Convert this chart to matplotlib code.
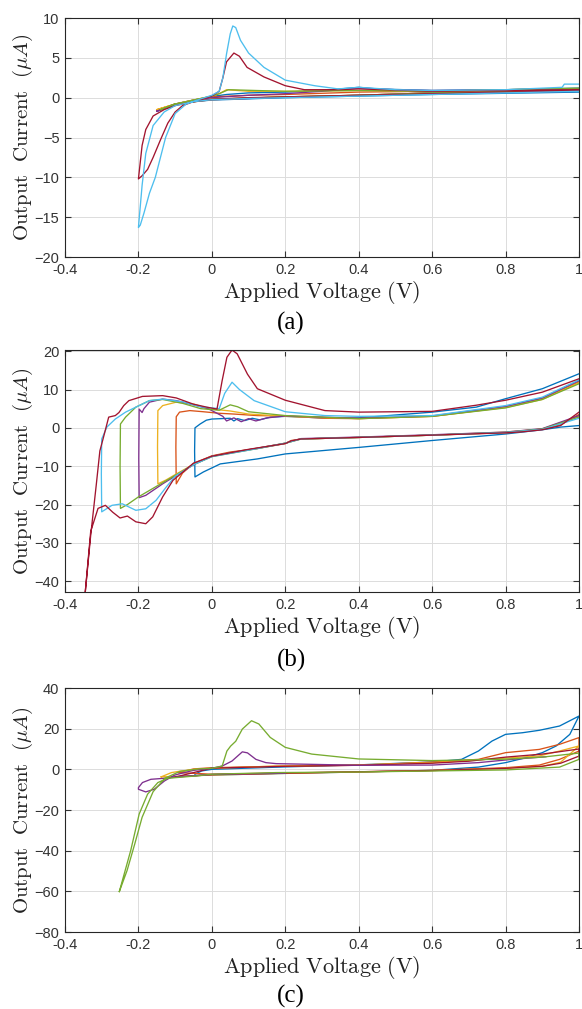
"""Cyclic voltammetry sweeps, three stacked panels (a)-(c)."""

import matplotlib as mpl
import matplotlib.pyplot as plt

mpl.rcParams.update({"mathtext.fontset": "cm", "font.family": "Liberation Sans"})

# MATLAB default line colours
blue, orange, yellow, purple = "#0072BD", "#D95319", "#EDB120", "#7E2F8E"
green, cyan, maroon = "#77AC30", "#4DBEEE", "#A2142F"

# ---- panel (a) ----
a_blue_v = [1.0, 0.8, 0.6, 0.4, 0.2, 0.0, -0.05, -0.1, -0.13, -0.15, -0.13, -0.1, -0.05, 0.0, 0.04, 0.1, 0.2, 0.3, 0.4, 0.45, 0.6, 0.8, 1.0]
a_blue_i = [0.7, 0.55, 0.4, 0.2, 0.0, -0.3, -0.5, -0.9, -1.4, -1.7, -1.3, -0.8, -0.3, 0.15, 0.4, 0.6, 0.7, 0.9, 1.3, 1.1, 0.9, 1.0, 1.2]
a_orange_v = [-0.15, -0.1, -0.05, 0.0, 0.1, 0.2, 0.4, 0.6, 0.8, 1.0, 1.0, 0.6, 0.4, 0.2, 0.0, -0.1, -0.15]
a_orange_i = [-1.6, -0.8, -0.3, 0.1, 0.3, 0.4, 0.7, 0.8, 1.0, 1.1, 0.9, 0.6, 0.3, 0.1, -0.2, -0.8, -1.6]
a_yellow_v = [-0.15, -0.1, -0.05, 0.0, 0.02, 0.04, 0.1, 0.2, 0.4, 0.6, 0.8, 1.0, 1.0, 0.6, 0.4, 0.2, 0.0, -0.1, -0.15]
a_yellow_i = [-1.5, -0.8, -0.3, 0.2, 0.5, 1.0, 0.8, 0.8, 0.9, 0.8, 1.0, 1.1, 0.9, 0.6, 0.3, 0.1, -0.25, -0.8, -1.5]
a_purple_v = [-0.15, -0.1, -0.05, 0.0, 0.1, 0.2, 0.3, 0.4, 0.5, 0.6, 0.8, 1.0, 1.0, 0.6, 0.4, 0.2, 0.0, -0.1, -0.15]
a_purple_i = [-1.7, -0.9, -0.4, 0.0, 0.3, 0.5, 0.8, 1.2, 1.0, 0.9, 1.0, 1.1, 0.8, 0.6, 0.3, 0.05, -0.25, -0.8, -1.7]
a_green_v = [-0.14, -0.1, -0.05, 0.0, 0.02, 0.045, 0.12, 0.2, 0.4, 0.6, 0.8, 1.0, 1.0, 0.6, 0.4, 0.2, 0.0, -0.1, -0.14]
a_green_i = [-1.5, -0.8, -0.3, 0.2, 0.5, 1.0, 0.9, 0.8, 0.9, 0.8, 1.0, 1.2, 0.9, 0.6, 0.3, 0.1, -0.2, -0.8, -1.5]
a_cyan_v = [1.0, 0.8, 0.6, 0.4, 0.2, 0.1, 0.0, -0.05, -0.1, -0.13, -0.16, -0.18, -0.19, -0.2, -0.195, -0.185, -0.17, -0.154, -0.126, -0.1, -0.07, -0.04, 0.0, 0.02, 0.03, 0.04, 0.05, 0.057, 0.065, 0.078, 0.1, 0.142, 0.2, 0.28, 0.344, 0.4, 0.5, 0.6, 0.8, 0.954, 0.96, 1.0]
a_cyan_i = [0.8, 0.6, 0.4, 0.2, 0.0, -0.1, -0.25, -0.5, -1.0, -1.8, -3.5, -7.0, -11.0, -16.3, -16.0, -14.5, -12.0, -10.0, -5.0, -2.0, -0.8, -0.3, 0.3, 0.8, 2.5, 5.5, 8.0, 9.0, 8.8, 7.2, 5.6, 3.8, 2.2, 1.5, 1.1, 1.3, 1.0, 0.9, 1.0, 1.3, 1.7, 1.7]
a_red_v = [1.0, 0.8, 0.6, 0.4, 0.2, 0.1, 0.0, -0.05, -0.1, -0.13, -0.16, -0.18, -0.19, -0.2, -0.19, -0.175, -0.16, -0.14, -0.12, -0.1, -0.08, -0.05, 0.0, 0.02, 0.03, 0.04, 0.06, 0.075, 0.096, 0.142, 0.2, 0.252, 0.344, 0.4, 0.6, 0.8, 1.0]
a_red_i = [0.9, 0.7, 0.5, 0.3, 0.1, 0.0, -0.2, -0.5, -1.0, -1.5, -2.3, -4.0, -6.0, -10.2, -9.8, -9.0, -7.5, -5.3, -3.2, -1.8, -1.0, -0.5, 0.2, 0.8, 2.5, 4.5, 5.6, 5.2, 3.8, 2.6, 1.5, 1.0, 1.0, 1.1, 0.8, 0.9, 1.0]

# ---- panel (b) ----
b_blue_v = [1.0, 0.95, 0.9, 0.8, 0.6, 0.4, 0.2, 0.124, 0.023, -0.023, -0.046, -0.047, -0.046, -0.032, -0.015, 0.0, 0.05, 0.06, 0.07, 0.09, 0.11, 0.13, 0.16, 0.2, 0.3, 0.4, 0.6, 0.72, 0.8, 0.9, 1.0]
b_blue_i = [0.6, 0.2, -0.5, -1.6, -3.3, -5.1, -6.8, -8.1, -9.4, -11.5, -12.8, -6.0, 0.0, 1.0, 2.0, 2.3, 2.5, 1.8, 2.4, 1.9, 2.5, 2.1, 2.8, 3.0, 2.6, 2.6, 4.1, 5.4, 7.6, 10.2, 14.1]
b_orange_v = [1.0, 0.95, 0.9, 0.82, 0.6, 0.4, 0.243, 0.216, 0.2, 0.124, 0.05, 0.0, -0.05, -0.08, -0.097, -0.098, -0.097, -0.088, -0.06, -0.023, 0.02, 0.06, 0.124, 0.2, 0.308, 0.4, 0.6, 0.8, 0.9, 1.0]
b_orange_i = [3.5, 0.8, -0.3, -1.2, -1.9, -2.5, -2.9, -3.3, -4.1, -5.4, -6.3, -7.3, -9.3, -11.8, -14.6, -5.0, 2.9, 4.1, 4.5, 4.2, 3.8, 3.6, 3.2, 3.1, 2.5, 2.4, 3.0, 5.4, 7.6, 12.0]
b_yellow_v = [1.0, 0.9, 0.8, 0.6, 0.4, 0.243, 0.2, 0.124, 0.0, -0.05, -0.1, -0.125, -0.147, -0.148, -0.147, -0.134, -0.097, -0.05, -0.01, 0.03, 0.05, 0.1, 0.2, 0.4, 0.6, 0.8, 0.9, 1.0]
b_yellow_i = [3.0, -0.3, -1.1, -1.9, -2.5, -2.9, -4.0, -5.3, -7.4, -9.5, -12.2, -13.6, -14.6, -5.0, 4.5, 5.8, 6.7, 6.2, 5.0, 4.6, 4.4, 3.6, 3.0, 2.4, 3.0, 5.3, 7.4, 11.8]
b_purple_v = [1.0, 0.9, 0.8, 0.6, 0.4, 0.243, 0.2, 0.124, 0.0, -0.05, -0.097, -0.134, -0.18, -0.198, -0.199, -0.198, -0.19, -0.185, -0.17, -0.134, -0.097, -0.05, -0.01, 0.03, 0.04, 0.06, 0.08, 0.1, 0.12, 0.15, 0.2, 0.4, 0.6, 0.8, 0.9, 1.0]
b_purple_i = [3.2, -0.2, -1.1, -1.8, -2.4, -2.8, -4.0, -5.3, -7.4, -9.6, -12.4, -14.6, -17.6, -18.2, -8.0, 4.9, 4.0, 5.0, 6.7, 7.5, 7.1, 6.0, 5.0, 3.0, 1.8, 2.6, 1.6, 2.4, 1.8, 2.6, 3.1, 2.5, 3.1, 5.6, 7.8, 12.3]
b_green_v = [1.0, 0.9, 0.8, 0.6, 0.4, 0.243, 0.2, 0.124, 0.0, -0.05, -0.1, -0.15, -0.2, -0.23, -0.249, -0.25, -0.249, -0.235, -0.207, -0.17, -0.134, -0.08, -0.03, 0.02, 0.05, 0.07, 0.1, 0.2, 0.4, 0.6, 0.8, 0.9, 1.0]
b_green_i = [2.8, -0.3, -1.2, -1.9, -2.5, -2.9, -4.0, -5.4, -7.5, -9.6, -12.4, -15.2, -18.0, -20.0, -21.0, -10.0, 1.0, 2.8, 5.4, 7.1, 7.4, 6.4, 5.0, 4.6, 6.0, 5.5, 4.2, 3.2, 2.4, 3.0, 5.2, 7.4, 11.5]
b_cyan_v = [1.0, 0.9, 0.8, 0.6, 0.4, 0.243, 0.2, 0.124, 0.0, -0.05, -0.1, -0.124, -0.152, -0.18, -0.207, -0.244, -0.272, -0.3, -0.301, -0.3, -0.286, -0.263, -0.235, -0.207, -0.17, -0.134, -0.08, -0.03, 0.02, 0.035, 0.055, 0.075, 0.115, 0.2, 0.308, 0.4, 0.6, 0.8, 0.9, 1.0]
b_cyan_i = [2.5, -0.4, -1.2, -1.9, -2.5, -2.9, -4.0, -5.4, -7.5, -9.6, -12.6, -15.4, -18.9, -21.1, -21.5, -19.8, -20.2, -21.9, -12.0, -2.9, 0.2, 2.3, 4.1, 5.4, 7.1, 7.5, 6.8, 5.5, 5.0, 9.0, 11.9, 10.0, 7.1, 4.2, 3.2, 3.0, 3.2, 5.8, 8.0, 12.5]
b_red_v = [1.0, 0.95, 0.9, 0.85, 0.8, 0.6, 0.4, 0.243, 0.216, 0.2, 0.1, 0.0, -0.05, -0.106, -0.134, -0.161, -0.18, -0.207, -0.23, -0.25, -0.27, -0.29, -0.31, -0.33, -0.345, -0.34, -0.33, -0.315, -0.305, -0.295, -0.281, -0.263, -0.253, -0.24, -0.226, -0.189, -0.134, -0.097, -0.051, -0.014, 0.014, 0.028, 0.041, 0.055, 0.069, 0.097, 0.124, 0.2, 0.308, 0.4, 0.6, 0.72, 0.8, 0.9, 1.0]
b_red_i = [4.1, 0.6, -0.5, -1.0, -1.3, -1.9, -2.5, -2.9, -3.4, -4.1, -5.6, -7.4, -9.2, -13.7, -18.0, -23.2, -25.0, -24.5, -23.0, -23.5, -22.0, -20.2, -21.0, -27.0, -43.0, -38.0, -28.0, -15.0, -6.0, -2.4, 2.8, 3.2, 4.0, 5.8, 7.1, 8.2, 8.4, 7.8, 6.2, 5.4, 4.9, 12.3, 18.4, 20.3, 19.3, 14.0, 10.2, 7.2, 4.5, 4.1, 4.3, 5.9, 7.2, 9.3, 12.8]

# ---- panel (c) ----
c_blue_v = [-0.046, -0.028, 0.0, 0.2, 0.4, 0.6, 0.68, 0.726, 0.763, 0.8, 0.846, 0.892, 0.947, 1.0, 0.975, 0.938, 0.9, 0.855, 0.8, 0.726, 0.6, 0.4, 0.2, 0.0, -0.046]
c_blue_i = [-2.4, -0.8, 0.0, 1.2, 2.2, 3.6, 4.9, 9.0, 13.9, 17.2, 18.0, 19.2, 21.3, 26.2, 17.2, 11.5, 8.2, 5.7, 3.3, 1.1, -0.5, -1.3, -2.0, -2.8, -3.1]
c_orange_v = [-0.09, -0.05, 0.0, 0.2, 0.4, 0.6, 0.726, 0.8, 0.846, 0.892, 0.947, 1.0, 1.0, 0.947, 0.892, 0.8, 0.6, 0.4, 0.2, 0.0, -0.09]
c_orange_i = [-1.6, 0.2, 0.8, 1.6, 2.0, 3.6, 4.9, 8.2, 9.0, 9.8, 12.3, 15.6, 9.0, 4.9, 2.1, 0.8, -0.5, -1.2, -1.8, -2.4, -1.6]
c_yellow_v = [-0.138, -0.11, -0.083, -0.046, 0.0, 0.175, 0.4, 0.6, 0.8, 0.892, 0.947, 1.0, 0.95, 0.9, 0.8, 0.6, 0.4, 0.2, 0.0, -0.1, -0.138]
c_yellow_i = [-3.7, -1.6, -0.8, 0.0, 0.5, 1.6, 2.2, 3.3, 5.5, 6.6, 9.0, 11.5, 3.5, 1.5, 0.5, -0.6, -1.3, -2.0, -2.8, -3.5, -3.7]
c_purple_v = [0.2, 0.0, -0.08, -0.129, -0.166, -0.189, -0.2, -0.2, -0.18, -0.157, -0.129, -0.101, -0.05, 0.0, 0.028, 0.055, 0.083, 0.097, 0.12, 0.147, 0.175, 0.4, 0.6, 0.726, 0.818, 0.91]
c_purple_i = [-1.9, -2.5, -3.5, -4.4, -4.9, -6.5, -9.0, -9.8, -11.1, -9.8, -5.7, -2.8, -0.5, 0.5, 1.6, 4.1, 8.6, 8.1, 4.9, 3.3, 2.8, 2.0, 2.1, 3.3, 4.9, 6.2]
c_green_v = [-0.252, -0.231, -0.21, -0.19, -0.16, -0.128, -0.087, -0.036, 0.0, 0.028, 0.041, 0.051, 0.065, 0.083, 0.108, 0.128, 0.159, 0.2, 0.272, 0.4, 0.6, 0.8, 0.9, 1.0, 1.0, 0.947, 0.8, 0.6, 0.4, 0.175, 0.0, -0.046, -0.12, -0.147, -0.175, -0.198, -0.221, -0.252]
c_green_i = [-60.1, -49.8, -36.7, -23.6, -11.0, -4.4, -1.0, 0.2, 0.5, 1.6, 9.0, 11.4, 13.8, 19.8, 23.9, 22.3, 15.7, 10.8, 7.5, 5.1, 4.3, 5.0, 6.0, 8.0, 4.9, 1.1, -0.3, -0.8, -1.3, -1.6, -2.4, -3.3, -4.4, -6.5, -12.2, -22.0, -39.9, -60.1]
c_red_v = [-0.1, 0.0, 0.2, 0.4, 0.6, 0.7, 0.8, 0.9, 1.0, 1.0, 0.95, 0.9, 0.8, 0.6, 0.4, 0.2, 0.0, -0.1]
c_red_i = [-3.8, 0.6, 1.5, 2.0, 3.0, 4.0, 6.0, 7.5, 10.0, 6.5, 3.0, 1.5, 0.5, -0.6, -1.2, -1.9, -2.6, -3.8]

panels = [
    ("(a)", (-20, 10), range(-20, 11, 5), [
        (a_blue_v, a_blue_i, blue), (a_orange_v, a_orange_i, orange),
        (a_yellow_v, a_yellow_i, yellow), (a_purple_v, a_purple_i, purple),
        (a_green_v, a_green_i, green), (a_red_v, a_red_i, maroon),
        (a_cyan_v, a_cyan_i, cyan)]),
    ("(b)", (-42.8, 20.3), range(-40, 21, 10), [
        (b_blue_v, b_blue_i, blue), (b_orange_v, b_orange_i, orange),
        (b_yellow_v, b_yellow_i, yellow), (b_purple_v, b_purple_i, purple),
        (b_green_v, b_green_i, green), (b_cyan_v, b_cyan_i, cyan),
        (b_red_v, b_red_i, maroon)]),
    ("(c)", (-80, 40), range(-80, 41, 20), [
        (c_blue_v, c_blue_i, blue), (c_orange_v, c_orange_i, orange),
        (c_yellow_v, c_yellow_i, yellow), (c_red_v, c_red_i, maroon),
        (c_purple_v, c_purple_i, purple), (c_green_v, c_green_i, green)]),
]

# axes boxes in pixels: (top, bottom); caption y in pixels
boxes = [(18, 257, 323), (350, 592, 660), (688, 932, 996)]
W, H = 582, 1009

fig = plt.figure(figsize=(W / 100, H / 100), dpi=100)
for (cap, ylim, yticks, series), (top, bot, cap_y) in zip(panels, boxes):
    ax = fig.add_axes([65 / W, 1 - bot / H, (579 - 65) / W, (bot - top) / H])
    for v, i, col in series:
        ax.plot(v, i, color=col, lw=0.95)
    ax.set_xlim(-0.4, 1.0)
    ax.set_ylim(*ylim)
    ax.set_xticks([-0.4, -0.2, 0, 0.2, 0.4, 0.6, 0.8, 1.0], ["-0.4", "-0.2", "0", "0.2", "0.4", "0.6", "0.8", "1"])
    ax.set_yticks(list(yticks))
    ax.grid(True, color="#dcdcdc", lw=0.7)
    ax.tick_params(direction="in", top=True, right=True, length=4, width=0.8,
                   labelsize=10.5, colors="#333333")
    ax.tick_params(axis="x", pad=4)
    ax.tick_params(axis="y", pad=4)
    for sp in ax.spines.values():
        sp.set_color("#262626")
        sp.set_linewidth(0.8)
    ax.set_xlabel(r"$\mathrm{Applied\ Voltage\ (V)}$", fontsize=16, labelpad=2, color="#222222")
    ax.set_ylabel(r"$\mathrm{Output\ \ Current\ \ }(\mu A)$", fontsize=15, labelpad=0, color="#222222")
    fig.text(0.5, 1 - cap_y / H, cap, ha="center", va="center",
             family="Liberation Serif", fontsize=18)

fig.savefig("out.png", dpi=100)
